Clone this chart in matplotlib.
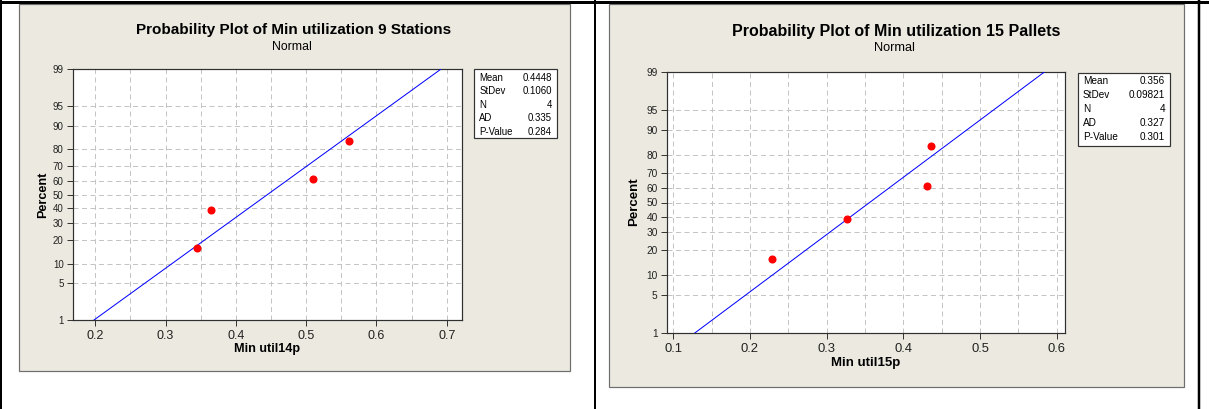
import matplotlib
matplotlib.use('Agg')
import matplotlib.pyplot as plt
from matplotlib.patches import Rectangle
from matplotlib.ticker import MultipleLocator
from statistics import NormalDist

W, H = 1209, 409
plt.rcParams['font.family'] = ['Liberation Sans', 'DejaVu Sans']

# valeurs
pct_ticks = [1, 5, 10, 20, 30, 40, 50, 60, 70, 80, 90, 95, 99]
pct_points = [15.9, 38.6, 61.4, 84.1]

util14p = [0.3445, 0.3646, 0.5094, 0.5607]
util15p = [0.229, 0.327, 0.431, 0.436]

stat_names = ['Mean', 'StDev', 'N', 'AD', 'P-Value']
stats14 = ['0.4448', '0.1060', '4', '0.335', '0.284']
stats15 = ['0.356', '0.09821', '4', '0.327', '0.301']

xticks14 = [0.2, 0.3, 0.4, 0.5, 0.6, 0.7]
xticks15 = [0.1, 0.2, 0.3, 0.4, 0.5, 0.6]

nd = NormalDist()


def z(p):
    return nd.inv_cdf(p / 100.0)


BEIGE = '#ECE9E0'
PX = 0.72  # 1 px en points a 100 dpi

fig = plt.figure(figsize=(W / 100, H / 100), dpi=100)
bg = fig.add_axes([0, 0, 1, 1])
bg.set_xlim(0, W)
bg.set_ylim(H, 0)
bg.axis('off')


def panel(box, axbox, statbox, stat_x, stat_y0, stat_dy, title, title_xy, sub_xy,
          xlabel, xlabel_xy, ylabel_xy, xvals, stats, xticks, xlim, s):
    # fond beige
    bg.add_patch(Rectangle((box[0], box[1]), box[2] - box[0], box[3] - box[1],
                           facecolor=BEIGE, edgecolor='#6e6e6e', lw=1.2 * PX))
    bg.text(title_xy[0], title_xy[1], title, ha='center', va='center',
            fontsize=11 * s, fontweight='bold')
    bg.text(sub_xy[0], sub_xy[1], 'Normal', ha='center', va='center', fontsize=8.8 * s)
    bg.text(xlabel_xy[0], xlabel_xy[1], xlabel, ha='center', va='center',
            fontsize=9.1 * s, fontweight='bold')
    bg.text(ylabel_xy[0], ylabel_xy[1], 'Percent', ha='center', va='center',
            fontsize=9.1 * s, fontweight='bold', rotation=90)

    # boite de stats
    bg.add_patch(Rectangle((statbox[0], statbox[1]), statbox[2] - statbox[0],
                           statbox[3] - statbox[1], facecolor='white',
                           edgecolor='#333333', lw=1.2 * PX))
    for i, (name, val) in enumerate(zip(stat_names, stats)):
        y = stat_y0 + i * stat_dy
        bg.text(stat_x[0], y, name, ha='left', va='center', fontsize=6.9 * s)
        bg.text(stat_x[1], y, val, ha='right', va='center', fontsize=6.9 * s)

    x0, y0, x1, y1 = axbox
    ax = fig.add_axes([x0 / W, 1 - y1 / H, (x1 - x0) / W, (y1 - y0) / H])
    ax.set_facecolor('white')

    mean = float(stats[0])
    sd = float(stats[1])
    line_p = [pct_ticks[0], pct_ticks[-1]]
    ax.plot([mean + sd * z(p) for p in line_p], [z(p) for p in line_p],
            color='#0000ff', lw=1.0 * PX, zorder=3)
    ax.plot(xvals, [z(p) for p in pct_points], 'o', color='#ff0000',
            ms=4.8, mec='#ff0000', zorder=4)

    ax.set_xlim(*xlim)
    ax.set_ylim(z(pct_ticks[0]), z(pct_ticks[-1]))
    ax.set_xticks(xticks)
    ax.set_xticklabels([f'{t:.1f}' for t in xticks])
    ax.xaxis.set_minor_locator(MultipleLocator(0.05))
    ax.set_yticks([z(p) for p in pct_ticks])
    ax.set_yticklabels([str(p) for p in pct_ticks])

    ax.tick_params(axis='x', which='major', labelsize=9 * s, length=4, width=0.9 * PX,
                   pad=3, colors='#222222')
    ax.tick_params(axis='x', which='minor', length=0)
    ax.tick_params(axis='y', labelsize=7 * s, length=4.5, width=0.9 * PX, pad=2,
                   colors='#222222')
    ax.grid(True, which='both', axis='x', color='#c4c4c4', lw=1.0 * PX,
            linestyle=(0, (5, 3.5)))
    ax.grid(True, which='major', axis='y', color='#c4c4c4', lw=1.0 * PX,
            linestyle=(0, (5, 3.5)))
    ax.set_axisbelow(True)
    for sp in ax.spines.values():
        sp.set_color('#303030')
        sp.set_linewidth(1.2 * PX)
    return ax


panel(box=(19, 4, 570, 371), axbox=(72.7, 69.3, 461.7, 320),
      statbox=(474.3, 69, 556.7, 138.3), stat_x=(479.3, 551.7), stat_y0=77.7, stat_dy=13.5,
      title='Probability Plot of Min utilization 9 Stations', title_xy=(294, 30),
      sub_xy=(291.6, 46.7), xlabel='Min util14p', xlabel_xy=(266.7, 349),
      ylabel_xy=(42.8, 194.5), xvals=util14p, stats=stats14, xticks=xticks14,
      xlim=(0.1679, 0.7213), s=1.0)

panel(box=(609.3, 4, 1184, 386.7), axbox=(666.7, 71.7, 1064.9, 333.3),
      statbox=(1077.5, 72.5, 1169.5, 146), stat_x=(1083, 1165), stat_y0=81.5, stat_dy=14,
      title='Probability Plot of Min utilization 15 Pallets', title_xy=(896.1, 31.7),
      sub_xy=(894.1, 48.3), xlabel='Min util15p', xlabel_xy=(865.2, 363.3),
      ylabel_xy=(634.1, 201.7), xvals=util15p, stats=stats15, xticks=xticks15,
      xlim=(0.0914, 0.6107), s=1.045)

# bordures du tableau
bg.plot([0, W], [1.5, 1.5], color='black', lw=3 * PX, solid_capstyle='butt')
bg.plot([1, 1], [0, H], color='black', lw=2 * PX, solid_capstyle='butt')
bg.plot([595, 595], [0, H], color='black', lw=2 * PX, solid_capstyle='butt')
bg.plot([1198.5, 1198.5], [0, H], color='black', lw=2.5 * PX, solid_capstyle='butt')

fig.savefig('out.png', dpi=100, facecolor='white')
